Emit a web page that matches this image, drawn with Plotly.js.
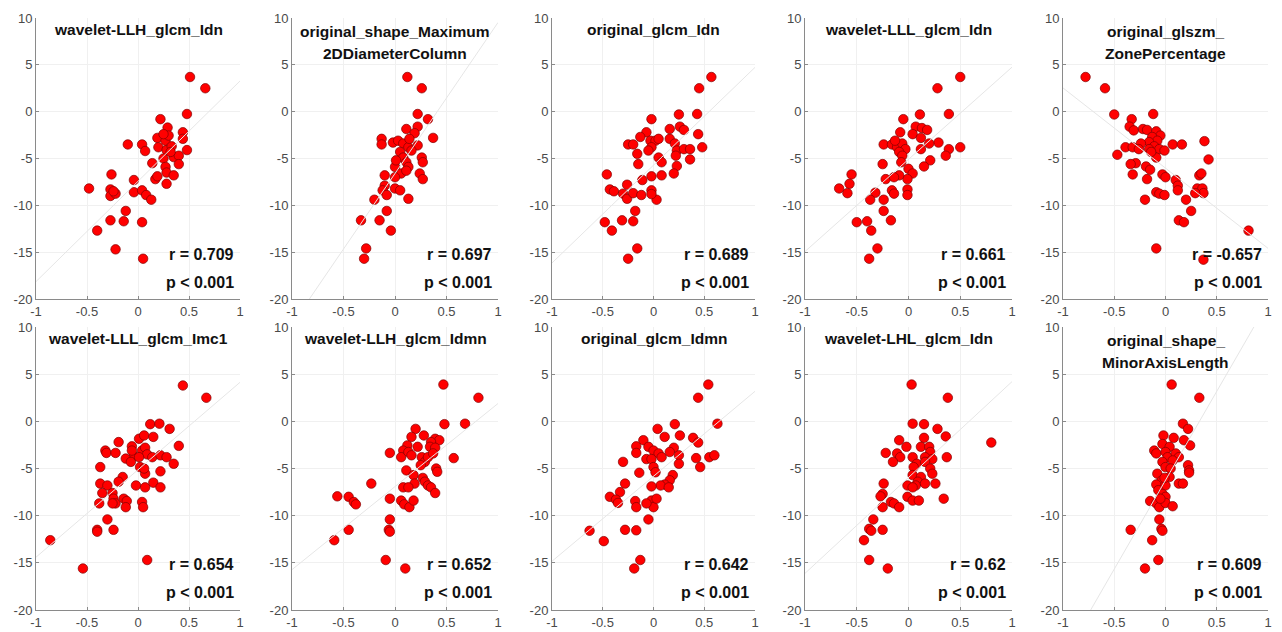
<!DOCTYPE html>
<html><head><meta charset="utf-8">
<script src="https://cdn.plot.ly/plotly-3.0.1.min.js"></script>
<style>html,body{margin:0;padding:0;background:#fff}#chart{width:1282px;height:632px}</style>
</head><body><div id="chart"></div>
<script>
// ---- data ----
const titles = ['wavelet-LLH_glcm_Idn','original_shape_Maximum<br>2DDiameterColumn','original_glcm_Idn','wavelet-LLL_glcm_Idn','original_glszm_<br>ZonePercentage',
                'wavelet-LLL_glcm_Imc1','wavelet-LLH_glcm_Idmn','original_glcm_Idmn','wavelet-LHL_glcm_Idn','original_shape_<br>MinorAxisLength'];
const rValues = ['0.709','0.697','0.689','0.661','-0.657','0.654','0.652','0.642','0.62','0.609'];
const pLabels = ['p < 0.001','p < 0.001','p < 0.001','p < 0.001','p < 0.001','p < 0.001','p < 0.001','p < 0.001','p < 0.001','p < 0.001'];
const xTickVals = [-1,-0.5,0,0.5,1];
const xTickText = ['-1','-0.5','0','0.5','1'];
const yTickVals = [-20,-15,-10,-5,0,5,10];
const yTickText = ['-20','-15','-10','-5','0','5','10'];

const x1 = [0.51,0.66,0.48,0.22,0.29,0.44,0.19,0.27,0.30,0.44,-0.10,0.04,0.07,0.20,0.28,0.33,0.48,0.35,0.40,0.40,0.14,0.25,0.27,0.28,0.35,0.17,0.19,0.28,-0.26,-0.48,-0.27,-0.27,-0.22,-0.24,-0.04,-0.04,0.04,0.08,0.13,-0.12,-0.27,-0.14,0.04,-0.40,-0.22,0.05,0.32,0.25];
const y1 = [3.7,2.5,-0.25,-0.8,-1.7,-2.2,-2.8,-3.1,-2.55,-2.9,-3.5,-3.5,-4.2,-3.8,-4.1,-3.7,-4.1,-4.85,-4.7,-5.6,-5.5,-5.0,-5.9,-6.5,-6.8,-7.2,-6.9,-7.7,-6.7,-8.2,-8.3,-9.0,-8.75,-8.5,-7.3,-8.6,-8.4,-8.9,-9.4,-10.6,-11.6,-11.7,-11.8,-12.7,-14.7,-15.7,-4.3,-2.4];

const x2 = [0.12,0.26,0.22,0.32,0.11,0.22,0.37,0.19,-0.13,-0.13,-0.02,0.03,0.08,0.13,0.22,0.16,0.05,0.08,0.26,0.27,0.11,0.13,0.00,0.06,0.24,0.27,0.00,-0.10,-0.10,-0.12,-0.08,0.00,0.05,0.13,-0.20,-0.08,-0.15,-0.33,-0.04,-0.28,-0.30,0.14,0.01,0.11];
const y2 = [3.7,2.5,-0.25,-0.8,-1.85,-1.6,-2.8,-2.3,-2.9,-3.5,-3.3,-3.1,-3.4,-3.8,-3.6,-4.15,-4.3,-4.9,-4.9,-5.4,-5.4,-5.9,-5.9,-6.6,-6.6,-7.2,-7.0,-6.8,-7.9,-8.4,-8.9,-8.2,-8.4,-9.3,-9.4,-10.6,-11.6,-11.6,-12.7,-14.6,-15.7,-2.9,-5.2,-6.3];

const x3 = [0.57,0.45,0.25,0.43,-0.02,0.16,0.26,0.30,0.44,-0.07,-0.13,-0.25,-0.20,-0.03,0.02,0.05,-0.02,-0.05,0.16,0.21,0.23,0.30,0.36,0.48,0.22,0.36,-0.16,-0.15,0.05,0.08,0.23,0.20,0.08,-0.02,-0.11,-0.46,-0.26,-0.43,-0.39,-0.30,-0.26,-0.20,-0.12,-0.02,0.03,-0.18,-0.48,-0.31,-0.20,-0.41,-0.16,-0.25,-0.02];
const y3 = [3.7,2.5,-0.3,-0.25,-0.8,-1.85,-1.6,-1.95,-2.4,-2.2,-2.7,-3.5,-3.5,-3.1,-3.1,-2.9,-3.8,-4.15,-2.9,-3.4,-4.15,-4.0,-4.0,-3.8,-4.7,-5.1,-4.5,-5.6,-4.9,-5.4,-5.8,-6.6,-6.8,-6.9,-7.3,-6.7,-7.8,-8.3,-8.5,-8.75,-9.3,-8.7,-8.9,-8.4,-9.4,-10.6,-11.8,-11.6,-11.7,-12.7,-14.6,-15.7,-8.8];

const x4 = [0.50,0.28,0.39,0.11,-0.05,0.07,0.13,0.18,0.04,-0.08,0.12,0.29,0.20,0.12,0.39,0.50,-0.24,-0.16,-0.11,-0.06,-0.03,-0.09,-0.06,0.21,0.36,-0.07,-0.25,0.15,0.00,0.04,-0.01,-0.09,-0.22,-0.14,-0.55,-0.57,-0.67,-0.59,-0.16,-0.14,-0.01,-0.01,-0.32,-0.37,-0.24,-0.24,-0.50,-0.40,-0.17,-0.36,-0.30,-0.38,-0.13];
const y4 = [3.7,2.5,-0.25,-0.3,-0.8,-1.6,-1.75,-1.95,-2.4,-2.2,-2.8,-3.3,-3.4,-4.0,-4.0,-3.8,-3.5,-3.5,-3.8,-3.4,-4.0,-4.3,-4.7,-5.2,-4.7,-5.4,-5.6,-5.85,-6.1,-6.6,-7.2,-6.8,-7.2,-7.0,-6.7,-7.7,-8.2,-8.7,-8.4,-8.75,-8.3,-8.9,-8.65,-9.4,-9.4,-10.6,-11.8,-11.7,-11.6,-12.7,-14.6,-15.7,-3.1];

const x5 = [-0.78,-0.59,-0.50,-0.12,-0.33,-0.35,-0.31,-0.22,-0.18,-0.09,-0.05,-0.13,-0.08,-0.16,-0.24,-0.11,-0.39,-0.32,-0.26,-0.16,-0.06,-0.01,-0.09,-0.47,0.07,0.16,0.38,0.42,-0.29,-0.34,-0.19,-0.15,-0.32,-0.18,-0.03,0.00,0.10,0.12,0.12,-0.09,-0.06,-0.01,-0.20,0.20,0.25,0.13,0.18,0.33,0.35,0.31,0.36,0.37,0.29,0.81,-0.09,0.37,-0.14];
const y5 = [3.7,2.5,-0.3,-0.25,-0.8,-1.6,-2.0,-1.85,-1.95,-2.1,-2.55,-2.7,-3.1,-3.25,-3.4,-3.7,-3.8,-3.8,-4.0,-4.0,-4.0,-4.15,-4.9,-4.6,-3.5,-3.5,-3.15,-5.1,-5.5,-5.6,-5.85,-6.2,-6.7,-7.2,-6.7,-7.0,-7.3,-7.9,-8.4,-8.6,-8.75,-8.9,-9.4,-9.4,-10.6,-11.6,-11.8,-6.8,-6.6,-8.2,-8.2,-8.7,-8.7,-12.7,-14.6,-15.8,-4.3];

const x6 = [0.44,0.67,0.12,0.21,0.31,0.01,0.06,0.15,-0.19,0.40,-0.06,-0.32,-0.31,-0.22,0.04,0.07,0.09,-0.04,-0.12,-0.07,0.01,0.14,0.22,0.28,0.35,0.22,-0.37,0.02,0.07,0.06,-0.15,-0.19,-0.37,-0.30,-0.02,0.07,0.15,0.22,-0.35,-0.25,-0.24,-0.22,-0.25,-0.14,-0.11,-0.12,-0.38,0.04,0.05,-0.30,-0.40,-0.40,-0.24,-0.86,-0.54,0.09,-0.06];
const y6 = [3.8,2.5,-0.3,-0.25,-0.8,-1.85,-1.5,-1.65,-2.2,-2.6,-2.65,-3.1,-3.35,-3.35,-3.1,-2.8,-3.5,-3.7,-3.95,-4.3,-3.8,-3.8,-3.6,-3.8,-4.5,-5.3,-4.85,-4.85,-5.55,-5.0,-5.9,-6.4,-6.6,-6.8,-6.8,-7.0,-6.5,-7.0,-7.6,-7.6,-8.2,-8.7,-8.7,-8.2,-8.45,-9.1,-8.7,-8.55,-9.1,-10.4,-11.5,-11.7,-11.5,-12.6,-15.6,-14.7,-3.1];

const x7 = [0.47,0.81,0.48,0.68,0.20,0.16,0.28,0.39,0.43,0.35,0.34,0.39,0.12,0.08,0.06,-0.05,0.13,0.16,0.22,0.26,0.29,0.25,0.32,0.37,0.57,0.40,0.41,0.11,0.18,0.19,0.27,0.29,0.32,0.35,0.39,0.08,0.13,-0.23,-0.56,-0.45,-0.40,-0.38,-0.05,0.06,0.09,0.14,0.18,-0.05,-0.06,-0.05,-0.45,-0.59,-0.09,0.10];
const y7 = [3.9,2.5,-0.3,-0.25,-0.8,-1.65,-1.5,-1.85,-2.0,-2.2,-2.7,-2.8,-2.55,-3.1,-3.8,-3.35,-3.25,-3.6,-2.7,-3.8,-4.3,-4.65,-3.8,-3.4,-3.9,-5.0,-5.35,-5.2,-5.7,-6.6,-6.0,-6.4,-6.8,-7.0,-7.6,-7.0,-7.0,-6.6,-7.95,-8.0,-8.55,-8.8,-8.2,-8.4,-8.8,-9.1,-8.4,-10.4,-11.5,-11.7,-11.5,-12.6,-14.7,-15.6];

const x8 = [0.54,0.44,0.63,0.21,0.04,0.11,0.26,0.39,0.44,-0.10,0.20,0.16,-0.17,-0.17,-0.05,0.00,0.05,0.08,-0.07,-0.02,0.25,0.25,0.42,0.55,0.60,0.46,-0.30,0.00,0.02,-0.14,0.19,0.16,0.11,0.07,-0.02,0.15,-0.28,-0.33,-0.43,-0.37,-0.35,-0.18,-0.17,-0.02,0.00,0.03,-0.05,-0.63,-0.28,-0.17,-0.49,-0.13,-0.19,-0.07];
const y8 = [3.9,2.5,-0.25,-0.3,-0.8,-1.65,-1.5,-1.75,-2.25,-2.0,-2.8,-3.25,-2.65,-3.35,-2.7,-3.1,-3.4,-3.8,-4.0,-4.0,-3.6,-4.5,-3.9,-3.8,-3.6,-4.85,-4.3,-4.85,-5.4,-5.45,-5.7,-6.25,-6.7,-6.8,-6.9,-7.0,-6.6,-7.5,-8.0,-8.3,-8.65,-8.45,-9.1,-8.4,-9.1,-8.2,-10.4,-11.6,-11.5,-11.55,-12.7,-14.7,-15.6,-8.7];

const x9 = [0.03,0.38,0.04,0.15,0.28,0.36,0.15,0.80,-0.09,-0.02,0.12,0.20,0.21,-0.22,-0.11,-0.08,0.04,0.16,0.23,0.37,0.08,0.16,-0.15,0.21,0.23,0.05,0.04,0.12,0.09,0.07,0.16,0.26,-0.01,-0.24,-0.25,-0.27,-0.01,0.04,0.10,0.34,-0.17,-0.14,-0.09,-0.25,-0.34,-0.38,-0.36,-0.25,-0.43,-0.38,-0.20,0.04];
const y9 = [3.9,2.5,-0.25,-0.3,-0.8,-1.6,-1.75,-2.25,-2.0,-2.7,-2.7,-2.7,-3.25,-3.35,-3.4,-3.8,-3.8,-3.8,-4.0,-3.8,-4.5,-4.3,-4.3,-5.0,-5.55,-4.85,-5.7,-5.9,-6.4,-6.8,-6.6,-6.6,-6.8,-6.6,-7.7,-7.95,-8.0,-8.4,-8.4,-8.2,-8.55,-8.7,-9.1,-9.1,-10.4,-11.4,-11.6,-11.5,-12.6,-14.7,-15.6,-7.0];

const x10 = [0.06,0.33,0.17,0.22,-0.02,0.08,0.18,0.24,-0.03,0.04,-0.11,-0.09,0.00,0.02,0.10,0.13,0.07,-0.03,0.00,0.05,0.22,0.23,0.23,-0.08,0.04,-0.04,-0.09,0.00,0.13,0.17,-0.07,-0.03,0.00,-0.15,-0.09,-0.06,0.00,0.07,-0.05,-0.06,-0.04,-0.03,-0.34,-0.13,-0.07,-0.20,-0.01];
const y10 = [3.9,2.5,-0.25,-0.8,-1.5,-1.75,-2.0,-2.55,-2.4,-2.7,-3.1,-3.4,-3.25,-3.8,-3.4,-3.8,-4.15,-4.3,-4.85,-5.0,-4.65,-5.2,-5.45,-5.55,-5.9,-6.3,-6.7,-6.8,-6.6,-6.6,-7.3,-7.7,-8.0,-8.45,-8.7,-9.1,-8.65,-9.0,-8.2,-10.4,-11.4,-11.6,-11.5,-12.6,-14.7,-15.6,-6.0];

const xs = [x1,x2,x3,x4,x5,x6,x7,x8,x9,x10];
const ys = [y1,y2,y3,y4,y5,y6,y7,y8,y9,y10];

// ---- layout geometry (pixels) ----
const W = 1282, H = 632;
const colPx = [[36,240],[292,498],[552,755],[805,1012],[1063,1268]];
const rowPx = [[18,299],[327,610]];
const FONT = 'Liberation Sans, Arial, Helvetica, sans-serif';

function fit(x, y) {
  const n = x.length;
  const mx = x.reduce((a,b)=>a+b,0)/n, my = y.reduce((a,b)=>a+b,0)/n;
  let sxy = 0, sxx = 0;
  for (let i=0;i<n;i++){ sxy += (x[i]-mx)*(y[i]-my); sxx += (x[i]-mx)*(x[i]-mx); }
  const b = sxy/sxx; return {b, a: my - b*mx};
}

const data = [];
const layout = {
  width: W, height: H, margin: {l:0,r:0,t:0,b:0},
  paper_bgcolor: '#fff', plot_bgcolor: '#fff', showlegend: false,
  font: {family: FONT}, annotations: []
};

for (let k=0;k<10;k++){
  const r = Math.floor(k/5), c = k%5;
  const sfx = k===0 ? '' : String(k+1);
  const xa = 'x'+sfx, ya = 'y'+sfx;
  const [l, rr] = colPx[c], [t, b] = rowPx[r];
  const axCommon = {
    showgrid: true, gridcolor: '#f0f0f0', gridwidth: 1, zeroline: false,
    showline: true, linecolor: '#8a8a8a', linewidth: 1,
    ticks: 'inside', ticklen: 3, tickcolor: '#8a8a8a',
    tickfont: {family: FONT, size: 13, color: '#4a4a4a'}, fixedrange: true
  };
  layout['xaxis'+sfx] = Object.assign({}, axCommon, {
    domain: [l/W, rr/W], anchor: ya, range: [-1,1],
    tickmode: 'array', tickvals: xTickVals, ticktext: xTickText
  });
  layout['yaxis'+sfx] = Object.assign({}, axCommon, {
    domain: [1-b/H, 1-t/H], anchor: xa, range: [-20,10],
    tickmode: 'array', tickvals: yTickVals, ticktext: yTickText
  });
  data.push({
    type: 'scatter', mode: 'markers', x: xs[k], y: ys[k], xaxis: xa, yaxis: ya,
    marker: {color: '#ff0000', size: 9.5, line: {color: '#800000', width: 0.7}},
    hoverinfo: 'skip'
  });
  const f = fit(xs[k], ys[k]);
  data.push({
    type: 'scatter', mode: 'lines', x: [-1, 1], y: [f.a - f.b, f.a + f.b], xaxis: xa, yaxis: ya,
    line: {color: '#e6e6e6', width: 1}, hoverinfo: 'skip'
  });
  // titles (one annotation per line)
  const lines = titles[k].split('<br>');
  const centers = lines.length === 1 ? [t + 11] : [t + 13, t + 35];
  lines.forEach((txt, i) => {
    layout.annotations.push({
      xref: xa+' domain', yref: 'paper', x: 0.5, y: 1 - centers[i]/H,
      xanchor: 'center', yanchor: 'middle', showarrow: false, text: txt,
      font: {family: FONT, size: 15.5, color: '#111', weight: 'bold'}
    });
  });
  layout.annotations.push({
    xref: xa+' domain', yref: 'paper', x: 1 - 4/(rr-l), y: 1 - (t + 237)/H,
    xanchor: 'right', yanchor: 'middle', showarrow: false, text: 'r = ' + rValues[k],
    font: {family: FONT, size: 16, color: '#111', weight: 'bold'}
  });
  layout.annotations.push({
    xref: xa+' domain', yref: 'paper', x: 1 - 4/(rr-l), y: 1 - (t + 265)/H,
    xanchor: 'right', yanchor: 'middle', showarrow: false, text: pLabels[k],
    font: {family: FONT, size: 16, color: '#111', weight: 'bold'}
  });
}

Plotly.newPlot('chart', data, layout, {displayModeBar: false, staticPlot: true});
</script>
</body></html>
